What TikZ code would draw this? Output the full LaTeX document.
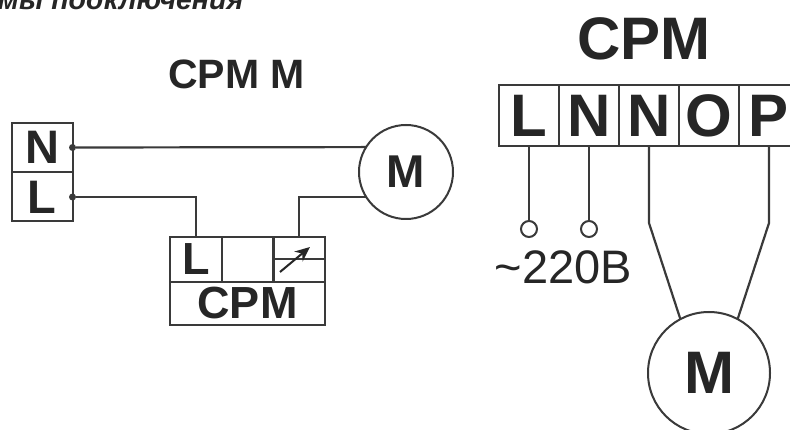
\documentclass[tikz,border=0pt]{standalone}
\usepackage{fontspec}
\setmainfont{Liberation Sans}
\usetikzlibrary{arrows.meta}
\usetikzlibrary{positioning}

\definecolor{wirec}{HTML}{3A3A3A}
\definecolor{textc}{HTML}{262626}

\begin{document}
\begin{tikzpicture}[x=1pt, y=-1pt, thick, line width=2pt, draw=wirec, text=textc,
	every node/.style={inner sep=0pt, outer sep=0pt},
	bigcell/.style={rectangle, draw=wirec, line width=2pt, font=\fontsize{60}{60}\bfseries\selectfont, minimum width=60pt, minimum height=61pt},
	maincell/.style={rectangle, draw=wirec, line width=2pt, font=\fontsize{47}{47}\bfseries\selectfont, minimum width=61pt, minimum height=49pt},
	relcell/.style={rectangle, draw=wirec, line width=2pt, font=\fontsize{45}{45}\bfseries\selectfont, minimum width=52pt, minimum height=45pt},
	motor/.style={circle, draw=wirec, line width=2pt, font=\bfseries},
	term/.style={circle, fill=wirec, minimum size=7pt},
	lug/.style={circle, draw=wirec, line width=2pt, minimum size=16pt},
	wire/.style={draw=wirec, line width=2.2pt},
]
\useasboundingbox (0,0) rectangle (790,430);
\fill [white] (0,0) rectangle (790,430);
\node [anchor=base west, font=\fontsize{28.5}{28.5}\bfseries\itshape\selectfont] (heading) at (-2,10) {мы подключения};
\node [font=\fontsize{41}{41}\bfseries\selectfont] (titleM) at (236.5,74) {CPM M};
\node [font=\fontsize{60}{60}\bfseries\selectfont] (titleP) at (644,39) {CPM};
% left scheme
\node [maincell] (mainN) at (42,147.5) {N};
\node [maincell] (mainL) [below of=mainN, node distance=49.5pt] {L};
\node [term] (termN) at (mainN.east) {};
\node [term] (termL) at (mainL.east) {};
\node [motor, minimum size=94pt, font=\fontsize{46}{46}\bfseries\selectfont] (motorA) at (406,172) {M};
\node [relcell] (relL) at (196,259.5) {L};
\node [relcell] (relE) [right of=relL, node distance=51.5pt] {};
\node [relcell] (relR) [right of=relE, node distance=51.5pt] {};
\node [relcell, minimum width=155pt, minimum height=43pt] (relP) [below of=relE, node distance=44pt] {CPM};
\coordinate (arrA) at (280,272);
\coordinate (arrB) at (310,247);
%
\draw [wire] (termN) -- (motorA.148);
\draw [wire] (termL) -| (relL.north);
\draw [wire] (motorA.212) -| (relR.north);
\draw [line width=2pt, draw=wirec] (relR.west) -- (relR.east);
\draw [-{Stealth[length=15pt, width=13pt]}, line width=2pt, draw=textc] (arrA) -- (arrB);
% right scheme
\node [bigcell] (cellL) at (529,115.5) {L};
\node [bigcell] (cellN) [right of=cellL, node distance=60pt] {N};
\node [bigcell] (cellM) [right of=cellN, node distance=60pt] {N};
\node [bigcell] (cellO) [right of=cellM, node distance=60pt] {O};
\node [bigcell] (cellP) [right of=cellO, node distance=60pt] {P};
\node [lug] (lugL) [below of=cellL, node distance=113.5pt] {};
\node [lug] (lugN) [below of=cellN, node distance=113.5pt] {};
\node [font=\fontsize{47}{47}\selectfont] (volt) at (563.5,267) {\textasciitilde 220В};
\node [motor, minimum size=122pt, font=\fontsize{60}{60}\bfseries\selectfont] (motorB) [below of=cellO, node distance=257.5pt] {M};
\coordinate (bendM) at ([yshift=-107.5pt]cellM.center);
\coordinate (bendP) at ([yshift=-107.5pt]cellP.center);
%
\draw [wire] (cellL.south) -- (lugL);
\draw [wire] (cellN.south) -- (lugN);
\draw [wire] (cellM.south) -- (bendM) -- (motorB.118);
\draw [wire] (cellP.south) -- (bendP) -- (motorB.62);
\end{tikzpicture}
\end{document}
